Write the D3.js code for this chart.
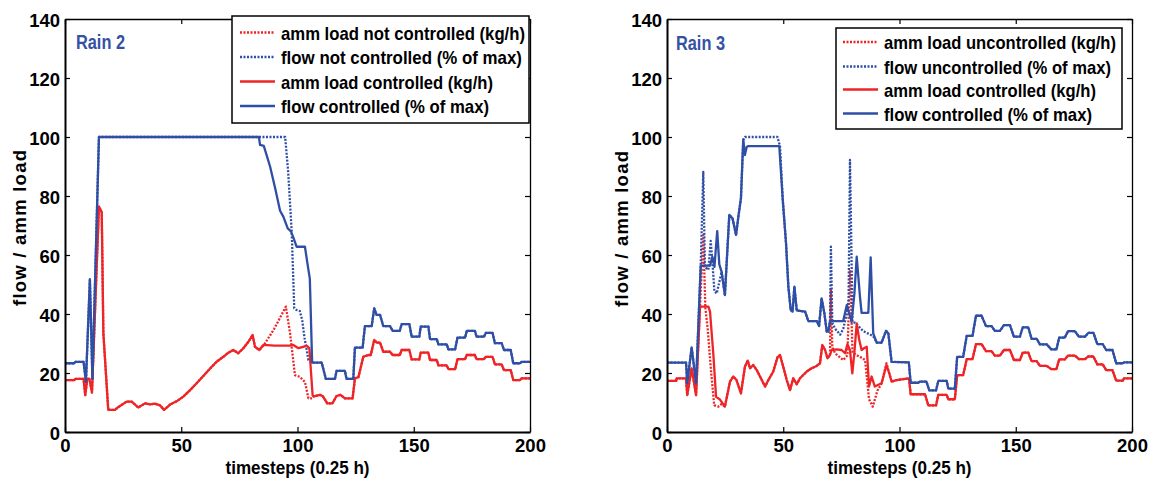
<!DOCTYPE html>
<html><head><meta charset="utf-8">
<script src="https://cdn.jsdelivr.net/npm/d3@7"></script>
<style>
html,body{margin:0;padding:0;background:#fff;}
text{font-family:"Liberation Sans",Arial,sans-serif;font-weight:bold;}
</style>
</head><body>
<svg id="chart" width="1151" height="479"></svg>
<script>
// ---------------- DATA ----------------
const xTicks = [0, 50, 100, 150, 200];
const yTicks = [0, 20, 40, 60, 80, 100, 120, 140];
const xLabel = "timesteps (0.25 h)";
const yLabel = "flow / amm load";

// Rain 2
const rain2Title = "Rain 2";
const rain2Legend = ["amm load not controlled (kg/h)", "flow not controlled (% of max)", "amm load controlled (kg/h)", "flow controlled (% of max)"];
const rain2FlowCtrl = [[0,23.3],[4,23.3],[4.5,23.8],[8,23.8],[9,17],[10.7,51.8],[11.8,18],[14.6,100],[83.4,100],[83.9,97.3],[85.5,97],[88.2,90],[90.3,83],[92.5,75],[93.9,73],[95.8,69],[97.2,68],[98.2,66],[99.6,62.8],[103.2,62.8],[104.3,57],[105.3,52],[106.3,23.5],[110.4,23.5],[112.2,18],[116.1,18],[116.8,20.7],[120.4,20.7],[121.1,18],[124,18],[124.7,28.6],[128,28.6],[129,35.9],[131.9,35.9],[133,41.9],[134,39.7],[135.5,39.7],[136.9,35.9],[139.8,35.9],[140.9,34.3],[144,34.3],[144.8,36.6],[148.1,36.6],[149.1,32.3],[152.4,32.3],[153,35.7],[156.3,35.7],[157,31.5],[159.9,31.5],[160.6,29.7],[164.2,29.7],[164.9,28],[167.8,28],[168.8,32],[172.1,32],[172.8,34.3],[176.3,34.3],[177,32.3],[180.2,32.3],[181,33.6],[183.9,33.6],[184.9,30.1],[187.8,30.1],[188.8,27.8],[191.7,27.8],[192.8,23.3],[195.7,23.3],[196.4,23.8],[200,23.8]];
const rain2FlowUncSegs = [
  [[83.4,100],[94.7,100],[96,88],[97.5,68],[98.6,42],[99.5,41.4],[101,41],[102,38],[103,32],[104.7,24.4],[106.3,23.5]]
];
const rain2AmmCtrl = [[0,17.6],[4,17.6],[4.5,18],[8,18],[8.7,12.5],[9.6,18],[10.5,18],[11.6,13.4],[14.6,76.4],[15.8,74.5],[16.5,33.5],[18.6,7.5],[21.5,7.5],[23,8.5],[26.5,10.3],[28.7,10.3],[31.5,8.3],[34.4,9.7],[36.6,9.4],[38.7,9.6],[40.9,9],[42.6,7.5],[45.2,9.3],[48,10.4],[50.9,12],[53.8,14.2],[56.6,16.5],[59.5,19],[62.4,21.5],[65.2,23.8],[68.1,25.5],[70.3,26.9],[72.4,27.8],[74.5,26.7],[76.7,28.4],[78.9,30.6],[80.7,32.9],[81.7,28.9],[83.6,27.8],[85.3,29.5],[90,29.3],[96.8,29.3],[98.2,29.5],[100.4,28.4],[104,29.2],[105.1,28.4],[106.5,12.5],[107,12.1],[109.7,12.6],[111,12],[112.8,9.7],[115,9.7],[116.8,12.2],[118.5,12.6],[120.4,11.4],[123.7,11.4],[124.7,18.2],[126.2,18.6],[128.3,25.5],[130.5,26.1],[131.5,26.1],[133,31.2],[134.1,30.3],[135.5,30.3],[136.9,27.2],[139.8,27.2],[140.9,26.1],[144,26.1],[144.8,27.8],[148.1,27.8],[149.1,24.6],[152.4,24.6],[153,26.9],[156.3,26.9],[157,24.4],[159.9,24.4],[160.6,22.6],[164.2,22.6],[164.9,21.3],[167.8,21.3],[168.8,24.7],[172.1,24.7],[172.8,26.1],[176.3,26.1],[177,24.7],[180.2,24.7],[181,25.5],[183.9,25.5],[184.9,22.9],[187.8,22.9],[188.8,21],[191.7,21],[192.8,17.6],[195.7,17.6],[196.4,18.2],[200,18.2]];
const rain2AmmUncSegs = [
  [[83.6,27.8],[86,30],[90,35],[95,42.5],[96.8,33.5],[98.9,19.3],[101,18.7],[102.5,17.5],[103.2,17],[104.7,11.4],[106.5,11.4],[107,12.1]]
];

// Rain 3
const rain3Title = "Rain 3";
const rain3Legend = ["amm load uncontrolled (kg/h)", "flow uncontrolled (% of max)", "amm load controlled (kg/h)", "flow controlled (% of max)"];
const rain3FlowCtrl = [[0,23.5],[8.2,23.5],[8.7,16.5],[10.6,28.7],[12.5,16.5],[14.5,56.4],[18.5,56.4],[19.5,59.4],[20.4,56],[21.6,68.1],[22.5,56.8],[23.5,54.3],[24.9,46.4],[26.8,73.6],[28.2,72.4],[29.7,66.8],[30.7,73],[31.8,79.2],[32.8,99.2],[33.5,93.9],[34.3,96.7],[35,96.9],[48.3,96.9],[49.8,78.6],[51.2,63.9],[52.2,49.3],[53.2,41.4],[54,40.8],[54.8,49.3],[55.8,41.2],[59.4,40.8],[60.8,37.6],[64.4,37.6],[65.4,35.9],[66.5,45.3],[67.7,40.2],[68.7,34],[69.4,34],[70.1,37.6],[75.8,37.6],[77.3,43],[78.4,40.2],[79.4,37.3],[80.6,46.9],[81.6,59.4],[83,45.8],[83.7,40.4],[86.6,40.4],[87.6,59.2],[88.7,33.4],[90.2,30.3],[92.3,30.3],[94.2,34.3],[95.2,33.4],[96.6,23.8],[104,23.6],[104.8,16.7],[108,16.7],[108.8,17.1],[111.6,17.1],[112.8,14.1],[115.7,14.1],[116.7,17.3],[120.3,17.3],[121,14.7],[123.8,14.7],[124.8,25.5],[127.4,25.5],[128.9,32.6],[131.4,32.6],[132.9,39.4],[135.3,39.4],[137.2,35.9],[139.6,35.9],[141,34.3],[143.2,34.3],[144.9,36.2],[147.5,36.2],[149.2,32.3],[151.8,32.3],[153,35.5],[155.4,35.5],[156.8,31.6],[159,31.6],[160.4,29.7],[163.3,29.7],[165.3,28],[167.5,28],[168.7,32],[171.1,32],[172.5,34.2],[175.4,34.2],[177.2,32.3],[179.8,32.3],[181.2,33.6],[183.4,33.6],[185.1,29.8],[187.4,29.8],[188.9,27.8],[191.6,27.8],[193.2,23.3],[196,23.3],[196.6,23.6],[200,23.6]];
const rain3FlowUncSegs = [
  [[14.5,56.4],[15.6,88.2],[16.3,56],[17.8,55],[18.8,64.8],[19.5,58],[20.4,47.6],[21.4,47],[23.5,54.3]],
  [[31.8,79.2],[32.8,99],[33.5,100],[35,100],[47.5,100],[48.6,96.9],[49.8,78.6]],
  [[69.4,34],[70.1,37.6],[70.5,62.8],[71.1,37],[72.3,35],[74.5,33],[75.8,35],[77.3,40],[78.1,45],[78.7,92.2],[79.8,37.3],[81,37],[84.4,34.2],[88.7,32.5],[90.2,30.3]]
];
const rain3AmmCtrl = [[0,17.3],[4,17.3],[4.2,18.2],[8.2,18.2],[8.7,12.5],[10.6,21.6],[12.5,12.5],[14.2,42.5],[17.8,42.5],[18.5,40.8],[19.9,26.7],[21.1,11.9],[22.8,11],[24.9,8.6],[27.1,17.1],[28.5,18.8],[29.9,17.6],[31.8,13.1],[33.5,22.1],[34.7,24.2],[35.7,21.6],[37.1,22.7],[38.6,21],[40,18.8],[42.2,15.4],[43.6,17.6],[45.7,20.5],[47.5,25.3],[48.6,26.1],[50,22.1],[51.5,17.6],[52.9,14.2],[54.3,18.2],[55.8,16.2],[57.2,18.2],[60.1,20.5],[62.2,21.6],[64.4,22.4],[65.8,23.3],[66.8,29.5],[68,27.8],[69,25],[70.1,26.1],[70.8,27.8],[73,28],[75.1,27.8],[76.6,26.7],[77.6,29.8],[78.7,27.8],[79.7,19.9],[80.6,27],[81.6,36.8],[82.7,31.2],[83.7,27.8],[84.7,28.4],[85.9,28.9],[86.9,15.4],[88,18.8],[89.4,15.4],[90.9,16],[92.3,16.5],[94.4,22.7],[95.6,19.9],[96.6,17.1],[98.7,17.6],[101.6,17.9],[104.1,18.2],[104.8,12.8],[111,12.8],[112.4,9],[115.7,9],[116.7,12.6],[120.3,12.6],[121,11.1],[123.8,11.1],[124.8,19.3],[127.4,19.3],[128.9,24.7],[131.4,24.7],[132.9,29.8],[135.3,29.8],[137.2,27.4],[139.6,27.4],[141,25.9],[143.2,25.9],[144.9,27.8],[147.5,27.8],[149.2,24.4],[151.8,24.4],[153,26.9],[155.4,26.9],[156.8,24],[159,24],[160.4,22.4],[163.3,22.4],[165.3,21.3],[167.5,21.3],[168.7,24.6],[171.1,24.6],[172.5,25.9],[175.4,25.9],[177.2,24.7],[179.8,24.7],[181.2,25.6],[183.4,25.6],[185.1,22.9],[187.4,22.9],[188.9,21],[191.6,21],[193.2,17.4],[196,17.4],[196.6,18.2],[200,18.2]];
const rain3AmmUncSegs = [
  [[14.2,42.5],[15.6,66.8],[16.5,42],[17.5,35],[19,20],[20.3,9.1],[22.1,8.6],[23.5,9.5],[24.9,8.6]],
  [[69,25],[70.1,26.1],[70.5,48.1],[71.1,28.8],[72.3,26.7],[75.8,24.4],[77.6,26],[78.7,54.9],[79.8,27],[81.6,26],[83,25.5],[85.2,24.4],[86.9,11.1],[88.5,8.6],[90.5,14],[92.3,16.5],[94.4,23.3],[95.6,19.9]]
];

// ---------------- DRAWING ----------------
const RED = "#ee2427", BLUE = "#2f4fa6", TITLE = "#3352a3";
const svg = d3.select("#chart");
svg.append("rect").attr("width",1151).attr("height",479).attr("fill","#fff");

function spliceSegs(base, segs){
  let out = base;
  segs.forEach(seg => {
    const a = seg[0][0], b = seg[seg.length-1][0];
    out = out.filter(p => p[0] < a).concat(seg, out.filter(p => p[0] > b));
  });
  return out;
}

function panel(cfg){
  const {left, right, top, bottom} = cfg;
  const x = d3.scaleLinear().domain([0,200]).range([left,right]);
  const y = d3.scaleLinear().domain([0,140]).range([bottom,top]);
  const g = svg.append("g");
  const clipId = "clip" + cfg.id;
  g.append("clipPath").attr("id",clipId).append("rect")
    .attr("x",left).attr("y",top).attr("width",right-left).attr("height",bottom-top);

  const line = d3.line().x(d=>x(d[0])).y(d=>y(d[1]));
  const series = [
    {data: spliceSegs(cfg.ammCtrl, cfg.ammUncSegs), color: RED, dash: "2,1.5"},
    {data: spliceSegs(cfg.flowCtrl, cfg.flowUncSegs), color: BLUE, dash: "2,1.5"},
    {data: cfg.ammCtrl, color: RED, dash: null},
    {data: cfg.flowCtrl, color: BLUE, dash: null}
  ];
  const lg = g.append("g").attr("clip-path",`url(#${clipId})`);
  series.forEach(s => {
    lg.append("path").datum(s.data).attr("d",line)
      .attr("fill","none").attr("stroke",s.color)
      .attr("stroke-width",2.3).attr("stroke-linejoin","round")
      .attr("stroke-dasharray",s.dash);
  });

  // axes
  const ax = g.append("g").attr("transform",`translate(0,${bottom})`)
    .call(d3.axisBottom(x).tickValues(xTicks).tickSizeInner(-5).tickSizeOuter(0).tickPadding(7));
  const ay = g.append("g").attr("transform",`translate(${left},0)`)
    .call(d3.axisLeft(y).tickValues(yTicks).tickSizeInner(-5).tickSizeOuter(0).tickPadding(5));
  const at = g.append("g").attr("transform",`translate(0,${top})`)
    .call(d3.axisTop(x).tickValues(xTicks).tickSizeInner(-5).tickSizeOuter(0).tickFormat(""));
  const ar = g.append("g").attr("transform",`translate(${right},0)`)
    .call(d3.axisRight(y).tickValues(yTicks).tickSizeInner(-5).tickSizeOuter(0).tickFormat(""));
  [ax,ay].forEach(a => { a.select(".domain").attr("stroke","#000").attr("stroke-width",2); });
  [at,ar].forEach(a => { a.select(".domain").attr("stroke","#000").attr("stroke-width",1.3); });
  [ax,ay,at,ar].forEach(a => a.selectAll(".tick line").attr("stroke","#000").attr("stroke-width",1.2));
  [ax,ay].forEach(a => a.selectAll(".tick text").attr("fill","#000")
      .style("font-size","18.5px").style("font-family","'Liberation Sans',Arial,sans-serif").style("font-weight","bold"));
  ay.selectAll(".tick text").attr("dy","0.42em");

  // axis labels
  g.append("text").attr("x",(left+right)/2).attr("y",474)
    .attr("text-anchor","middle").style("font-size","18.5px").attr("fill","#000")
    .attr("textLength",144).attr("lengthAdjust","spacingAndGlyphs").text(xLabel);
  g.append("text").attr("transform",`translate(${cfg.ylabX},${cfg.ylabY}) rotate(-90)`)
    .attr("text-anchor","middle").attr("dy","0.35em").style("font-size","18.5px").attr("fill","#000")
    .attr("textLength",156).attr("lengthAdjust","spacing").text(yLabel);

  // title
  g.append("text").attr("x",cfg.titleX).attr("y",cfg.titleY)
    .style("font-size","20px").attr("fill",TITLE)
    .attr("textLength",49).attr("lengthAdjust","spacingAndGlyphs").text(cfg.title);

  // legend
  const L = cfg.legend;
  g.append("rect").attr("x",L.x0).attr("y",L.y0).attr("width",L.x1-L.x0).attr("height",L.y1-L.y0)
    .attr("fill","#fff").attr("stroke","#000").attr("stroke-width",1.5);
  const styles = [{c:RED,d:"2,1.5"},{c:BLUE,d:"2,1.5"},{c:RED,d:null},{c:BLUE,d:null}];
  cfg.legendLabels.forEach((lab,i) => {
    const yy = L.rows[i];
    g.append("line").attr("x1",L.lx0).attr("x2",L.lx1).attr("y1",yy).attr("y2",yy)
      .attr("stroke",styles[i].c).attr("stroke-width",2.3).attr("stroke-dasharray",styles[i].d);
    g.append("text").attr("x",L.tx).attr("y",yy+7).style("font-size","18.5px").attr("fill","#000")
      .attr("textLength",L.widths[i]).attr("lengthAdjust","spacingAndGlyphs").text(lab);
  });
}

panel({id:2, left:65, right:530, top:19, bottom:432,
  flowCtrl: rain2FlowCtrl, flowUncSegs: rain2FlowUncSegs,
  ammCtrl: rain2AmmCtrl, ammUncSegs: rain2AmmUncSegs,
  title: rain2Title, titleX:76, titleY:49,
  ylabX:20, ylabY:228,
  legendLabels: rain2Legend,
  legend:{x0:232,y0:16,x1:529,y1:123,lx0:240,lx1:275,tx:281,rows:[32.5,57,81.5,106],widths:[244,241,212,208]}
});
panel({id:3, left:667, right:1132, top:19, bottom:432,
  flowCtrl: rain3FlowCtrl, flowUncSegs: rain3FlowUncSegs,
  ammCtrl: rain3AmmCtrl, ammUncSegs: rain3AmmUncSegs,
  title: rain3Title, titleX:676, titleY:50,
  ylabX:622, ylabY:229,
  legendLabels: rain3Legend,
  legend:{x0:836,y0:28,x1:1122,y1:129,lx0:843,lx1:878,tx:884,rows:[42,66.5,89.5,113.5],widths:[232,227,212,208]}
});
</script>
</body></html>
